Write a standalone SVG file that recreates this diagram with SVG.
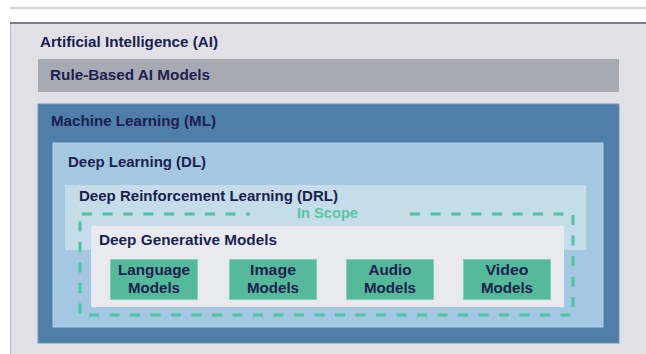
<svg xmlns="http://www.w3.org/2000/svg" width="646" height="354" viewBox="0 0 646 354">
<style>
.t{font-family:"Liberation Sans",Arial,sans-serif;font-weight:bold;font-size:15.5px;fill:#1c2150}
.c{text-anchor:middle}
.g{fill:#55b99b;stroke:#7fd0b6;stroke-width:1}
.s{font-family:"Liberation Sans",Arial,sans-serif;font-weight:bold;font-size:15.5px;fill:#5cc4a3}
</style>
<rect width="646" height="354" fill="#ffffff"/>
<line x1="10" y1="8" x2="646" y2="8" stroke="#d6d6d8" stroke-width="2.5"/>
<g id="ai">
<rect x="10.5" y="23" width="640" height="340" fill="#e1e0e7" stroke="#b9b9c8" stroke-width="1"/>
<line x1="10" y1="23" x2="646" y2="23" stroke="#5b5f7e" stroke-width="1.5"/>
<text class="t" x="40" y="47" textLength="178" lengthAdjust="spacingAndGlyphs">Artificial Intelligence (AI)</text>
</g>
<g id="rule">
<rect x="38" y="59" width="581" height="33" fill="#a7aab2"/>
<text class="t" x="50" y="80" textLength="160" lengthAdjust="spacingAndGlyphs">Rule-Based AI Models</text>
</g>
<g id="ml">
<rect x="38" y="104" width="581" height="239" fill="#4f7ea8" stroke="#6e95bb" stroke-width="1"/>
<text class="t" x="51" y="126" textLength="165" lengthAdjust="spacingAndGlyphs">Machine Learning (ML)</text>
</g>
<g id="dl">
<rect x="53" y="143" width="550" height="184" fill="#a4c8e2" stroke="#b5d2e8" stroke-width="1"/>
<text class="t" x="68" y="167" textLength="138" lengthAdjust="spacingAndGlyphs">Deep Learning (DL)</text>
</g>
<g id="drl">
<rect x="65" y="185" width="521" height="65" fill="#c4dde9"/>
<text class="t" x="79" y="201" textLength="259" lengthAdjust="spacingAndGlyphs">Deep Reinforcement Learning (DRL)</text>
</g>
<g id="connectors">
<rect x="80" y="214" width="493" height="101" fill="none" stroke="#4dc4a2" stroke-width="3" stroke-dasharray="10 10.5" stroke-dashoffset="-2"/>
</g>
<g id="scope">
<rect x="250" y="207" width="152" height="14" fill="#c4dde9"/>
<text class="s" x="297" y="218" textLength="61" lengthAdjust="spacingAndGlyphs">In Scope</text>
</g>
<g id="dgm">
<rect x="91" y="226" width="473" height="81" fill="#e9eaf0"/>
<text class="t" x="99" y="245" textLength="178" lengthAdjust="spacingAndGlyphs">Deep Generative Models</text>
</g>
<g id="language">
<rect class="g" x="110.5" y="259.5" width="87" height="40"/>
<text class="t c" x="154" y="275" textLength="72" lengthAdjust="spacingAndGlyphs">Language</text>
<text class="t c" x="154" y="293" textLength="52" lengthAdjust="spacingAndGlyphs">Models</text>
</g>
<g id="image">
<rect class="g" x="229.5" y="259.5" width="87" height="40"/>
<text class="t c" x="273" y="275" textLength="46" lengthAdjust="spacingAndGlyphs">Image</text>
<text class="t c" x="273" y="293" textLength="52" lengthAdjust="spacingAndGlyphs">Models</text>
</g>
<g id="audio">
<rect class="g" x="346.5" y="259.5" width="87" height="40"/>
<text class="t c" x="390" y="275" textLength="43" lengthAdjust="spacingAndGlyphs">Audio</text>
<text class="t c" x="390" y="293" textLength="52" lengthAdjust="spacingAndGlyphs">Models</text>
</g>
<g id="video">
<rect class="g" x="463.5" y="259.5" width="87" height="40"/>
<text class="t c" x="507" y="275" textLength="43" lengthAdjust="spacingAndGlyphs">Video</text>
<text class="t c" x="507" y="293" textLength="52" lengthAdjust="spacingAndGlyphs">Models</text>
</g>
</svg>
